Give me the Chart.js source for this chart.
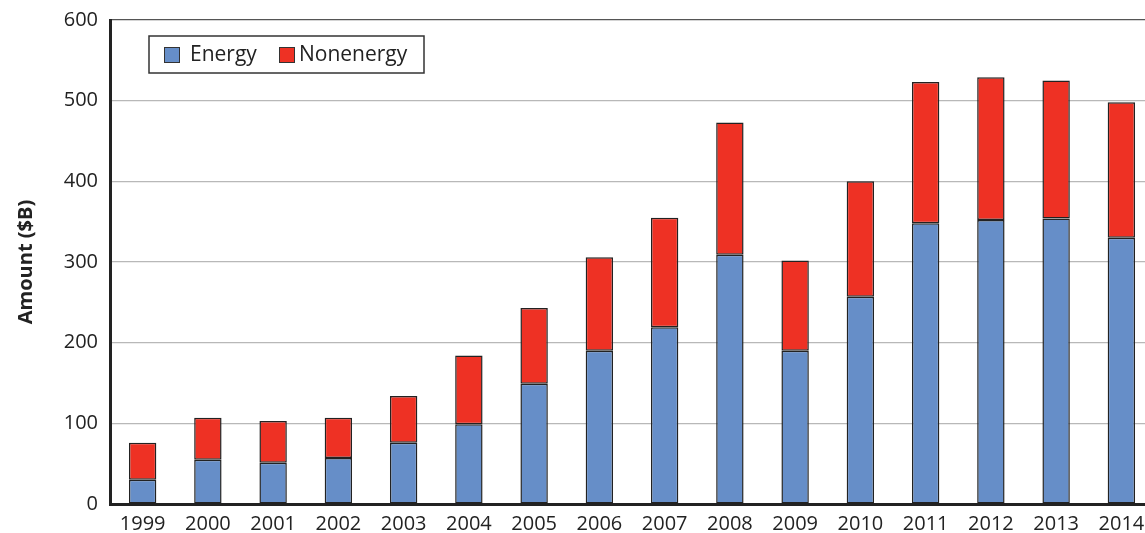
<!DOCTYPE html>
<html>
<head>
<meta charset="utf-8">
<script src="https://cdn.jsdelivr.net/npm/chart.js@4"></script>
<style>
  html, body { margin: 0; padding: 0; background: #fff; overflow: hidden; }
  #wrap { position: relative; width: 1156px; height: 533px; }
</style>
</head>
<body>
<div id="wrap"><canvas id="chart" width="1156" height="533"></canvas></div>
<script>
// Data
const years = ["1999", "2000", "2001", "2002", "2003", "2004", "2005", "2006",
               "2007", "2008", "2009", "2010", "2011", "2012", "2013", "2014"];
const energy = [30, 55, 51, 57, 76, 99, 149, 190, 219, 309, 190, 257, 348, 352, 354, 330];
const nonenergy = [46, 52, 52, 50, 58, 85, 94, 116, 136, 164, 112, 143, 175, 177, 171, 168];
const yTicks = [0, 100, 200, 300, 400, 500, 600];

const FONT = "'Open Sans', 'Noto Sans', sans-serif";

// Boxed legend drawn inside the plot area
const boxLegend = {
    id: "boxLegend",
    afterDraw(chart) {
        const ctx = chart.ctx;
        const x = 149, y = 36, w = 275, h = 37;
        ctx.save();
        ctx.fillStyle = "#fff";
        ctx.fillRect(x, y, w, h);
        ctx.strokeStyle = "#333";
        ctx.lineWidth = 1.5;
        ctx.strokeRect(x, y, w, h);
        ctx.font = "21px " + FONT;
        ctx.textBaseline = "middle";
        let cx = x + 15;
        chart.data.datasets.forEach((ds) => {
            ctx.fillStyle = ds.backgroundColor;
            ctx.fillRect(cx, y + 11, 16, 16);
            ctx.strokeStyle = "#333";
            ctx.lineWidth = 1;
            ctx.strokeRect(cx + 0.5, y + 11.5, 15, 15);
            ctx.fillStyle = "#222";
            ctx.fillText(ds.label, cx + (ds.label === "Energy" ? 26 : 20), y + h / 2 + 1);
            cx += ds.label === "Energy" ? 115 : 0;
        });
        ctx.restore();
    },
};

function renderChart() {
    const ctx = document.getElementById("chart").getContext("2d");
    new Chart(ctx, {
        type: "bar",
        data: {
            labels: years,
            datasets: [
                {
                    label: "Energy",
                    data: energy,
                    backgroundColor: "#668ec8",
                    borderColor: "#222",
                    borderWidth: 1.5,
                    borderSkipped: false,
                },
                {
                    label: "Nonenergy",
                    data: nonenergy,
                    backgroundColor: "#ee3124",
                    borderColor: "#222",
                    borderWidth: 1.5,
                    borderSkipped: false,
                },
            ],
        },
        options: {
            responsive: false,
            animation: false,
            devicePixelRatio: 1,
            layout: { padding: { left: 12, top: 20, right: 2, bottom: 0 } },
            datasets: { bar: { barPercentage: 0.42, categoryPercentage: 1 } },
            plugins: {
                legend: { display: false },
                tooltip: { enabled: false },
            },
            scales: {
                x: {
                    stacked: true,
                    grid: { display: false },
                    border: { display: true, color: "#222", width: 3 },
                    ticks: {
                        color: "#222",
                        font: { family: FONT, size: 20 },
                        padding: 0,
                        maxRotation: 0,
                    },
                    afterFit(scale) { scale.height = 29; },
                },
                y: {
                    stacked: true,
                    min: 0,
                    max: 600,
                    afterBuildTicks(scale) {
                        scale.ticks = yTicks.map((v) => ({ value: v }));
                    },
                    grid: {
                        color: (c) => (c.tick && c.tick.value === 600 ? "#555" : "#b8b8b8"),
                        lineWidth: 1.2,
                        drawTicks: false,
                    },
                    border: { display: true, color: "#222", width: 3 },
                    ticks: {
                        color: "#222",
                        font: { family: FONT, size: 20 },
                        padding: 12,
                    },
                    title: {
                        display: true,
                        text: "Amount ($B)",
                        color: "#222",
                        font: { family: FONT, size: 20, weight: "bold" },
                        padding: { top: 2, bottom: 4 },
                    },
                    afterFit(scale) {
                        scale.width = 98;
                        scale.paddingTop = 0;
                        scale.paddingBottom = 0;
                    },
                },
            },
        },
        plugins: [boxLegend],
    });
}

document.addEventListener("DOMContentLoaded", renderChart);
</script>
</body>
</html>
